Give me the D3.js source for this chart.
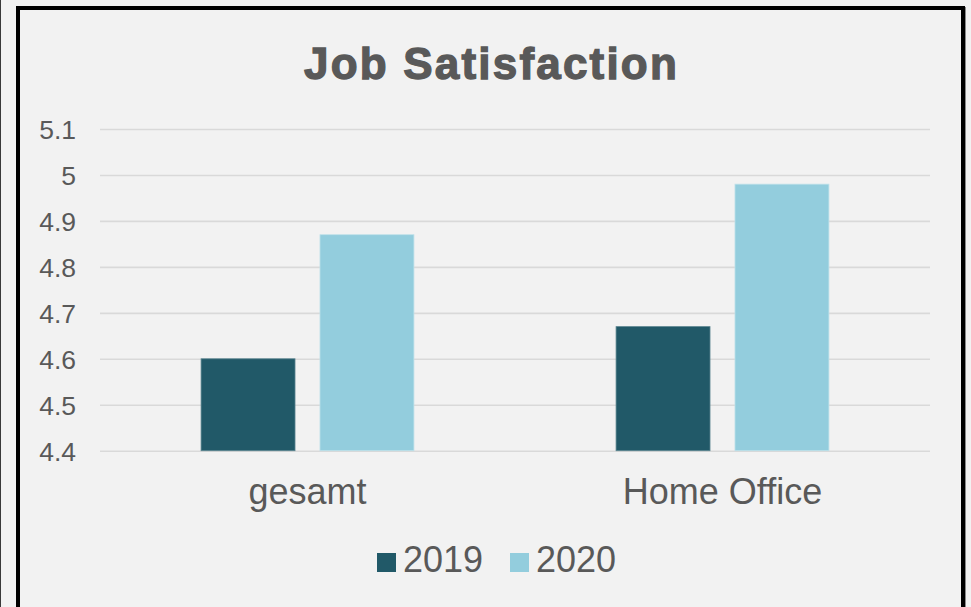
<!DOCTYPE html>
<html><head>
<meta charset="utf-8">
<title>Job Satisfaction</title>
<script src="https://d3js.org/d3.v7.min.js"></script>
<style>
  html, body { margin: 0; padding: 0; background: #f2f2f2; }
  svg { display: block; }
  text { font-family: "Liberation Sans", Arial, sans-serif; fill: #595959; }
</style>
</head>
<body>
<svg id="plot" width="971" height="607"></svg>
<script>
// data
const categories = ["gesamt", "Home Office"];
const years = ["2019", "2020"];
const values2019 = [4.60, 4.67];
const values2020 = [4.87, 4.98];
const tickValues = [4.4, 4.5, 4.6, 4.7, 4.8, 4.9, 5.0, 5.1];
const colors = ["#215968", "#93cddd"];

const svg = d3.select("svg#plot");
const width = +svg.attr("width");
const height = +svg.attr("height");

// frame: thin dark line at far left, heavy black border round chart area
svg.append("rect").attr("x", 0).attr("y", 0).attr("width", width).attr("height", height).attr("fill", "#f2f2f2");
svg.append("line").attr("x1", 0.5).attr("x2", 0.5).attr("y1", 0).attr("y2", height)
   .attr("stroke", "#3a3a3a").attr("stroke-width", 1);
svg.append("line").attr("x1", 965.5).attr("x2", 965.5).attr("y1", 7).attr("y2", height)
   .attr("stroke", "#8a8a8a").attr("stroke-width", 1);
svg.append("rect").attr("x", 18).attr("y", 8).attr("width", 945).attr("height", height + 20)
   .attr("fill", "#f2f2f2").attr("stroke", "#000").attr("stroke-width", 4);

const margin = {top: 129, right: 41, bottom: 156.3, left: 100};

const y = d3.scaleLinear().domain([4.4, 5.1]).range([height - margin.bottom, margin.top]);
const x0 = d3.scaleBand().domain(categories).range([margin.left, width - margin.right]).padding(0);
const x1 = d3.scaleBand().domain(years).range([0, x0.bandwidth()])
             .paddingInner(0.21).paddingOuter(0.85);
const color = d3.scaleOrdinal().domain(years).range(colors);

// gridlines + tick labels
const yAxis = d3.axisLeft(y).tickValues(tickValues).tickSize(-(width - margin.left - margin.right))
                .tickFormat(d => d3.format("")(+d.toFixed(1)));
const gy = svg.append("g").attr("transform", "translate(" + margin.left + ",0)").call(yAxis);
gy.select(".domain").remove();
gy.selectAll(".tick line").attr("stroke", "#d9d9d9").attr("stroke-width", 1.6);
gy.selectAll(".tick text").attr("x", -24).attr("dy", "0.36em")
  .style("font-size", "26.5px").attr("fill", "#595959");

// bars
const rows = categories.map((c, i) => ({cat: c, vals: [values2019[i], values2020[i]]}));
const groups = svg.append("g").selectAll("g").data(rows).join("g")
  .attr("transform", d => "translate(" + x0(d.cat) + ",0)");
groups.selectAll("rect").data(d => d.vals.map((v, j) => ({year: years[j], v: v})))
  .join("rect")
  .attr("x", d => x1(d.year))
  .attr("width", x1.bandwidth())
  .attr("y", d => y(d.v))
  .attr("height", d => y(4.4) - y(d.v))
  .attr("fill", d => color(d.year))
  .attr("stroke", d => d.year === "2019" ? "#5b8590" : "#bfe1ea")
  .attr("stroke-width", 0.8);

// category labels
svg.append("g").selectAll("text").data(categories).join("text")
  .attr("x", d => x0(d) + x0.bandwidth() / 2)
  .attr("y", 504)
  .attr("text-anchor", "middle")
  .style("font-size", "36px")
  .text(d => d);

// title (heavy, slightly spaced like the original)
svg.append("text").attr("x", 491.5).attr("y", 79).attr("text-anchor", "middle")
   .style("font-size", "44px").style("font-weight", "bold")
   .style("letter-spacing", "2.2px")
   .attr("stroke", "#595959").attr("stroke-width", 1.3)
   .text("Job Satisfaction");

// legend
const legendX = [377, 510];
const lg = svg.append("g").selectAll("g").data(years).join("g")
  .attr("transform", (d, i) => "translate(" + legendX[i] + ",0)");
lg.append("rect").attr("x", 0).attr("y", 553).attr("width", 19).attr("height", 19)
  .attr("fill", d => color(d));
lg.append("text").attr("x", 26).attr("y", 572).style("font-size", "36px").text(d => d);
</script>
</body>
</html>
